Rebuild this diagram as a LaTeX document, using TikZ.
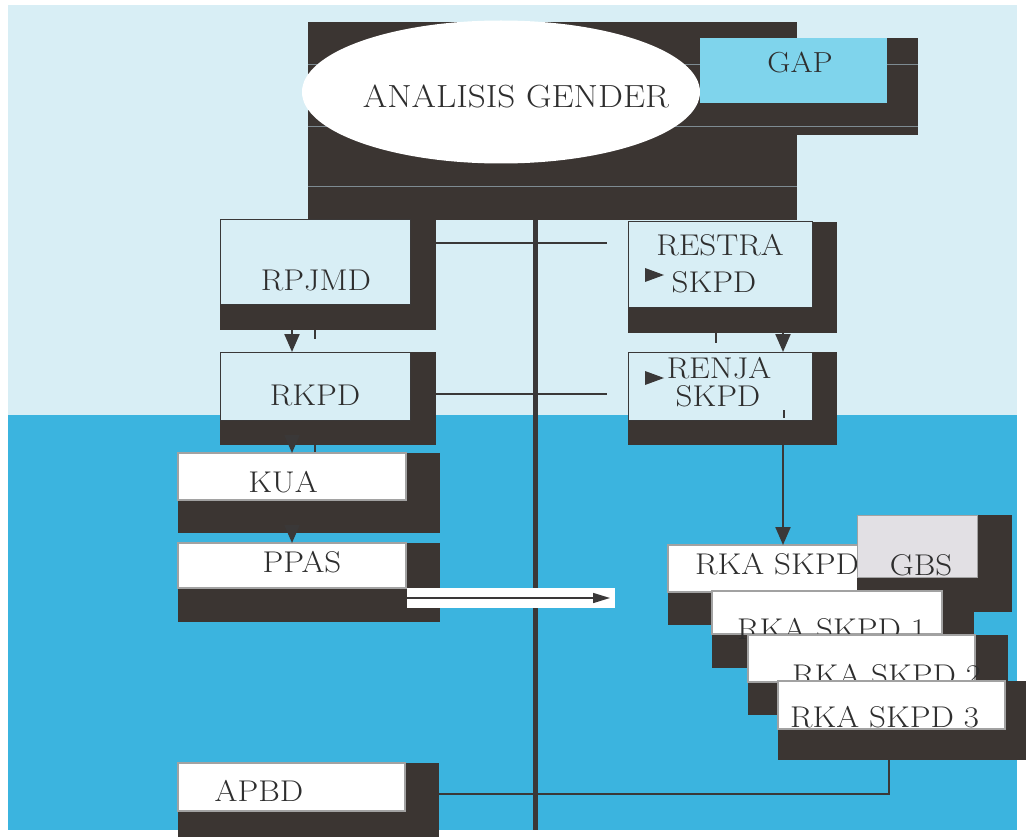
\documentclass[tikz,border=0pt]{standalone}
\usetikzlibrary{arrows.meta,shapes.geometric}
\definecolor{bgtop}{HTML}{D8EEF5}
\definecolor{bgbot}{HTML}{3BB4DF}
\definecolor{shd}{HTML}{3B3532}
\definecolor{lnc}{HTML}{3A3838}
\definecolor{gapc}{HTML}{7FD4EC}
\definecolor{gbsc}{HTML}{E2E0E4}
\definecolor{scanl}{HTML}{7E8B92}
\definecolor{txt}{HTML}{2E2E2E}
\definecolor{wbord}{HTML}{A2A2A2}
\newcommand{\stretchtxt}[1]{\scalebox{1.1}[1]{#1}}
\begin{document}
\begin{tikzpicture}[x=1pt,y=-1pt,
  shadowbox/.style={rectangle,fill=shd,draw=none,inner sep=0pt,outer sep=0pt,anchor=north west},
  lightbox/.style={rectangle,fill=bgtop,draw=lnc,line width=1pt,inner sep=0pt,outer sep=0pt,anchor=north west},
  whitebox/.style={rectangle,fill=white,draw=wbord,line width=1.5pt,inner sep=0pt,outer sep=0pt,anchor=north west},
  lbl/.style={text=txt,inner sep=0pt,font=\fontsize{30}{32}\selectfont},
  conn/.style={draw=lnc,line width=2.2pt},
  arr/.style={conn,-{Triangle[width=15pt,length=18pt]}},
  tickln/.style={draw=lnc,line width=1.2pt},
]
\fill[white] (0,0) rectangle (1026,837);
\useasboundingbox (0,0) rectangle (1026,837);
\fill[bgtop] (8,5) rectangle (1017,415);
\fill[bgbot] (8,415) rectangle (1017,830);

% columns and rows
\coordinate (colL) at (292,0);
\coordinate (colT) at (315,0);
\coordinate (colM) at (535,0);
\coordinate (colR) at (783,0);
\coordinate (colA) at (889,0);
\coordinate (rowA) at (0,243);
\coordinate (rowB) at (0,394);
\coordinate (rowC) at (0,794);
\coordinate (vbot) at (535,830);

% top block
\node[shadowbox,minimum width=489,minimum height=198] (topS) at (308,22) {};
\node[shadowbox,minimum width=218,minimum height=97] (gapS) at (700,38) {};
\draw[scanl,line width=1pt] (308,65) -- (918,65) (308,127) -- (918,127) (308,187) -- (797,187);
\node[ellipse,fill=white,inner sep=0pt,minimum width=398,minimum height=143] (ag) at (501,92) {};
\node[lbl,font=\fontsize{32}{34}\selectfont] (agT) at (516,96) {\stretchtxt{ANALISIS GENDER}};
\node[rectangle,fill=gapc,inner sep=0pt,anchor=north west,minimum width=187,minimum height=65] (gap) at (700,38) {};
\node[lbl,font=\fontsize{29}{30}\selectfont] (gapT) at (800,62) {\stretchtxt{GAP}};

% main vertical line
\draw[lnc,line width=5pt] (topS.south -| colM) -- (vbot);

% RPJMD
\node[shadowbox,minimum width=216,minimum height=110] (rpjmdS) at (220,220) {};
\node[lightbox,minimum width=190,minimum height=85] (rpjmd) at (220,220) {};
\node[lbl] (rpjmdT) at (316,280) {\stretchtxt{RPJMD}};

% RESTRA SKPD
\node[shadowbox,minimum width=209,minimum height=111] (restraS) at (628,222) {};
\node[lightbox,minimum width=184,minimum height=85] (restra) at (628,222) {};
\node[lbl] (restraT1) at (720,245) {\stretchtxt{RESTRA}};
\node[lbl] (restraT2) at (714,282) {\stretchtxt{SKPD}};
\fill[lnc] (645,268) -- (645,282) -- (664,275) -- cycle;

% RKPD
\node[shadowbox,minimum width=216,minimum height=93] (rkpdS) at (220,352) {};
\node[lightbox,minimum width=190,minimum height=68] (rkpd) at (220,352) {};
\node[lbl] (rkpdT) at (315,395) {\stretchtxt{RKPD}};

% RENJA SKPD
\node[shadowbox,minimum width=209,minimum height=93] (renjaS) at (628,352) {};
\node[lightbox,minimum width=184,minimum height=68] (renja) at (628,352) {};
\node[lbl] (renjaT1) at (719,368) {\stretchtxt{RENJA}};
\node[lbl] (renjaT2) at (718,396) {\stretchtxt{SKPD}};
\fill[lnc] (645,371) -- (645,385) -- (664,378) -- cycle;

% KUA
\node[shadowbox,minimum width=262,minimum height=80] (kuaS) at (178,453) {};
\node[whitebox,minimum width=228,minimum height=47] (kua) at (178,453) {};
\node[lbl] (kuaT) at (283,482) {\stretchtxt{KUA}};

% PPAS
\node[shadowbox,minimum width=262,minimum height=79] (ppasS) at (178,543) {};
\node[whitebox,minimum width=228,minimum height=45] (ppas) at (178,543) {};
\node[lbl] (ppasT) at (302,562) {\stretchtxt{PPAS}};

% PPAS arrow band
\node[rectangle,fill=white,inner sep=0pt,outer sep=0pt,anchor=north west,minimum width=208,minimum height=20] (band) at (407,588) {};
\draw[draw=lnc,line width=1.5pt,-{Triangle[width=10pt,length=17pt]},shorten >=5pt] (band.west) -- (band.east);

% RKA SKPD
\node[shadowbox,minimum width=202,minimum height=80] (rkaS) at (668,545) {};
\node[whitebox,minimum width=190,minimum height=47] (rka) at (668,545) {};
\node[lbl,anchor=west] (rkaT) at (695,564) {\stretchtxt{RKA SKPD}};

% GBS
\node[shadowbox,minimum width=155,minimum height=97] (gbsS) at (857,515) {};
\node[rectangle,fill=gbsc,draw=wbord,line width=1pt,inner sep=0pt,anchor=north west,minimum width=120,minimum height=62] (gbs) at (857,515) {};
\node[lbl] (gbsT) at (921,565) {\stretchtxt{GBS}};

% RKA SKPD 1
\node[shadowbox,minimum width=262,minimum height=77] (rka1S) at (712,591) {};
\node[whitebox,minimum width=230,minimum height=43] (rka1) at (712,591) {};
\node[lbl,anchor=west] (rka1T) at (737,629) {\stretchtxt{RKA SKPD 1}};

% RKA SKPD 2
\node[shadowbox,minimum width=260,minimum height=80] (rka2S) at (748,635) {};
\node[whitebox,minimum width=227,minimum height=47] (rka2) at (748,635) {};
\node[lbl,anchor=west] (rka2T) at (792,675) {\stretchtxt{RKA SKPD 2}};

% RKA SKPD 3
\node[shadowbox,minimum width=248,minimum height=79] (rka3S) at (778,681) {};
\node[whitebox,minimum width=227,minimum height=48] (rka3) at (778,681) {};
\node[lbl,anchor=west] (rka3T) at (790,717) {\stretchtxt{RKA SKPD 3}};

% APBD
\node[shadowbox,minimum width=261,minimum height=74] (apbdS) at (178,763) {};
\node[whitebox,minimum width=227,minimum height=48] (apbd) at (178,763) {};
\node[lbl] (apbdT) at (259,791) {\stretchtxt{APBD}};

% connectors
\draw[conn,shorten >=21pt] (rpjmdS.east |- rowA) -- (restra.west |- rowA);
\draw[conn,shorten >=21pt] (rkpdS.east |- rowB) -- (renja.west |- rowB);
\draw[arr] (rpjmdS.south -| colL) -- (rkpd.north -| colL);
\draw[arr] (restraS.south -| colR) -- (renja.north -| colR);
\draw[arr] (rkpdS.south -| colL) -- (kua.north -| colL);
\draw[arr] (kuaS.south -| colL) -- (ppas.north -| colL);
\draw[arr] (renjaS.south -| colR) -- (rka.north -| colR);
\draw[conn] (rka3S.south -| colA) |- (apbdS.east |- rowC);

% small ticks
\draw[tickln] (rpjmdS.south -| colT) -- ++(0,9);
\draw[tickln] (rkpdS.south -| colT) -- ++(0,7);
\draw[tickln] (restraS.south -| 716,0) -- ++(0,10);
\draw[tickln] (784,410) -- (784,418);
\end{tikzpicture}
\end{document}
